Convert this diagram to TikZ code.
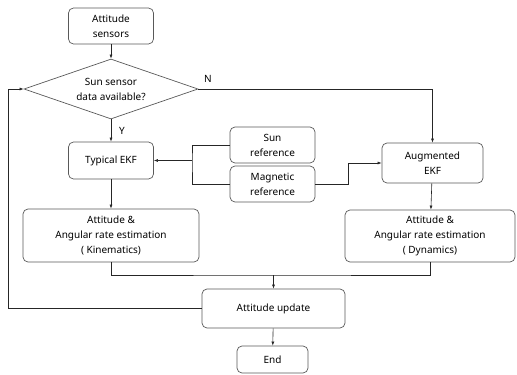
\documentclass[tikz,border=0pt]{standalone}
\usepackage{fontspec}
\setmainfont{Noto Sans}
\usepackage{tikz}
\usetikzlibrary{arrows.meta}
\usetikzlibrary{shapes.geometric}
\usetikzlibrary{calc}
\tikzstyle{blk}=[draw=black!65, rounded corners=5pt, align=center, inner sep=0pt, line width=0.7pt]
\tikzstyle{dec}=[draw=black!65, diamond, aspect=2.9, inner sep=0pt, align=center, line width=0.7pt]
\tikzstyle{flow}=[draw=black!85, line width=0.6pt, -{Latex[length=4pt,width=3pt]}]
\tikzstyle{wire}=[draw=black!85, line width=0.6pt]
\begin{document}
\begin{tikzpicture}[x=1pt,y=-1pt,font=\fontsize{10}{15}\selectfont]
	\useasboundingbox (0,0) rectangle (517,375);
	\node[blk, minimum width=85pt, minimum height=36pt] (sens) at (111,26) {Attitude\\sensors};
	\node[dec, minimum width=174pt, minimum height=60pt] (avail) at (111,89) {Sun sensor\\data available?};
	\node[blk, minimum width=85pt, minimum height=37pt] (tekf) at (111,160.5) {Typical EKF};
	\node[blk, minimum width=85pt, minimum height=36pt] (sunref) at (272.5,145) {Sun\\reference};
	\node[blk, minimum width=85pt, minimum height=36pt] (magref) at (272.5,184) {Magnetic\\reference};
	\node[blk, minimum width=101pt, minimum height=40pt] (aekf) at (432.5,163) {Augmented\\EKF};
	\node[blk, minimum width=176pt, minimum height=53pt] (kin) at (111,235.5) {Attitude \&\\Angular rate estimation\\( Kinematics)};
	\node[blk, minimum width=170pt, minimum height=52pt] (dyn) at (430,236) {Attitude \&\\Angular rate estimation\\( Dynamics)};
	\node[blk, minimum width=143pt, minimum height=39pt] (upd) at (273.5,308.5) {Attitude update};
	\node[blk, minimum width=71pt, minimum height=27pt] (fin) at (272.5,359.5) {End};
	% branch labels
	\node (nlab) at (208,79) {N};
	\node (ylab) at (122,131) {Y};
	% joints
	\coordinate (lj) at (192,160.5);
	\coordinate (rj) at (348,163);
	\coordinate (mj) at (273.5,275);
	\coordinate (fb) at (8,89);
	\draw[flow] (sens) -- (avail.north);
	\draw[flow] (avail.south) -- (tekf);
	\draw[flow] (avail.east) -| (aekf.north);
	\draw[wire] (sunref.west) -| (lj) |- (magref.west);
	\draw[flow] (lj) -- (tekf.east);
	\draw[flow] (magref.east) -| (rj) -- (aekf.west);
	\draw[flow] (tekf) -- (kin);
	\draw[flow] (aekf) -- (dyn);
	\draw[wire] (kin.south) |- (mj) -| (dyn.south);
	\draw[flow] (mj) -- (upd.north);
	\draw[flow] (upd.west) -| (fb) -- (avail.west);
	\draw[flow] (upd) -- (fin);
\end{tikzpicture}
\end{document}
